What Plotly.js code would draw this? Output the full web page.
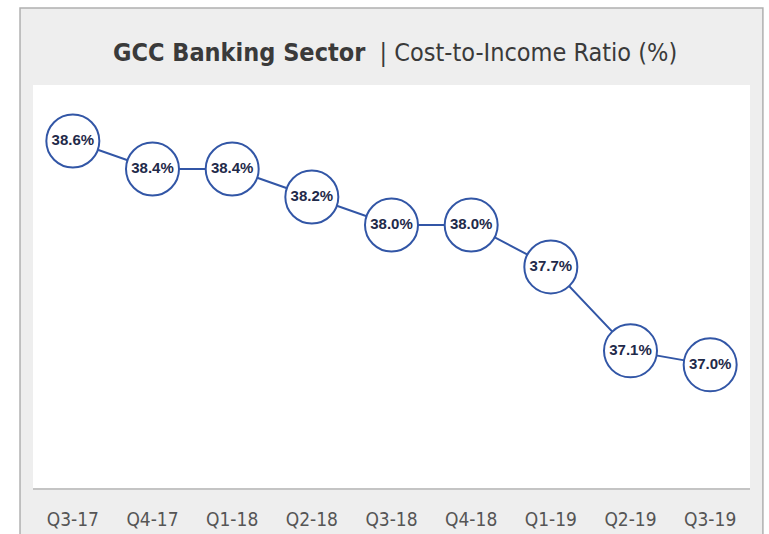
<!DOCTYPE html>
<html>
<head>
<meta charset="utf-8">
<script src="https://cdn.plot.ly/plotly-3.0.1.min.js"></script>
<style>html,body{margin:0;padding:0;background:#fff;}#chart{width:769px;height:534px;}</style>
</head>
<body>
<div id="chart"></div>
<script>
const quarters = ["Q3-17","Q4-17","Q1-18","Q2-18","Q3-18","Q4-18","Q1-19","Q2-19","Q3-19"];
const costToIncome = [38.6, 38.4, 38.4, 38.2, 38.0, 38.0, 37.7, 37.1, 37.0];
const labels = costToIncome.map(v => v.toFixed(1) + "%");

const blue = "#3256a6";
const condensed = "'DejaVu Sans Condensed', 'DejaVu Sans', sans-serif";

const trace = {
  x: quarters,
  y: costToIncome,
  text: labels,
  mode: "lines+markers+text",
  textposition: "middle center",
  textfont: {family: "'Liberation Sans', Arial, sans-serif", size: 15, color: "#1f2a4a"},
  texttemplate: "<b>%{text}</b>",
  line: {color: blue, width: 2},
  marker: {size: 53, color: "#ffffff", line: {color: blue, width: 2}},
  hoverinfo: "skip",
  cliponaxis: false
};

const layout = {
  width: 769, height: 534,
  margin: {l: 33, r: 19, t: 85, b: 46},
  paper_bgcolor: "#ffffff",
  plot_bgcolor: "#ffffff",
  showlegend: false,
  title: {
    text: "<b>GCC Banking Sector</b>  | Cost-to-Income Ratio (%)",
    font: {family: condensed, size: 25, color: "#3a3a3a"},
    x: 0.505, xanchor: "center", xref: "paper",
    y: 0.902, yanchor: "middle"
  },
  xaxis: {
    type: "category",
    range: [-0.5, 8.5],
    showgrid: false, zeroline: false,
    showline: true, linecolor: "#c4c4c4", linewidth: 2,
    ticks: "outside", ticklen: 13, tickcolor: "rgba(0,0,0,0)",
    tickfont: {family: condensed, size: 19, color: "#555555"},
    fixedrange: true
  },
  yaxis: {
    range: [36.12, 39.0],
    showgrid: false, zeroline: false, showline: false,
    showticklabels: false, ticks: "",
    fixedrange: true
  },
  shapes: [
    {type: "rect", xref: "paper", yref: "paper", layer: "below",
     x0: -0.0181, x1: 1.018, y0: -0.2, y1: 1.191,
     fillcolor: "#eeeeee", line: {color: "#b0b0b0", width: 1.5}},
    {type: "rect", xref: "paper", yref: "paper", layer: "below",
     x0: 0, x1: 1, y0: 0, y1: 1,
     fillcolor: "#ffffff", line: {width: 0}}
  ]
};

Plotly.newPlot("chart", [trace], layout, {displayModeBar: false, staticPlot: true});
</script>
</body>
</html>
